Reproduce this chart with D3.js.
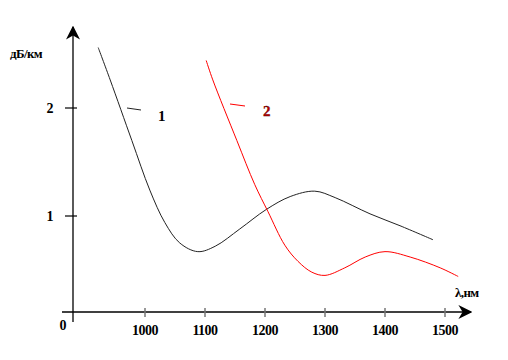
<!DOCTYPE html>
<html>
<head>
<meta charset="utf-8">
<script src="https://cdn.jsdelivr.net/npm/d3@7"></script>
<style>
  body { margin: 0; background: #fff; }
  text { font-family: "Liberation Serif", "Times New Roman", serif; font-weight: bold; }
</style>
</head>
<body>
<svg id="chart" width="508" height="360"></svg>
<script>
// wavelength ticks (nm) and attenuation ticks (dB/km)
var xTicks = [1000, 1100, 1200, 1300, 1400, 1500];
var yTicks = [1, 2];

// curve 1 (black)
var lambda1 = [922, 942, 978, 1008, 1033, 1058, 1088, 1117, 1158, 1202, 1242, 1283, 1317, 1375, 1425, 1480];
var atten1  = [2.56, 2.26, 1.70, 1.24, 0.94, 0.75, 0.67, 0.72, 0.88, 1.06, 1.18, 1.23, 1.17, 1.02, 0.91, 0.78];

// curve 2 (red)
var lambda2 = [1102, 1113, 1153, 1183, 1205, 1233, 1255, 1278, 1300, 1333, 1367, 1400, 1442, 1492, 1522];
var atten2  = [2.44, 2.26, 1.70, 1.29, 1.04, 0.73, 0.58, 0.48, 0.45, 0.52, 0.62, 0.67, 0.62, 0.52, 0.44];

var svg = d3.select("#chart");

var x = d3.scaleLinear().domain([1000, 1500]).range([145, 445]);
var y = d3.scaleLinear().domain([0, 2]).range([324, 108]);

var axisY = 312, axisX = 73;

// arrow marker
svg.append("defs").append("marker")
    .attr("id", "arrow")
    .attr("viewBox", "0 0 10 10")
    .attr("refX", 9).attr("refY", 5)
    .attr("markerWidth", 14).attr("markerHeight", 14)
    .attr("markerUnits", "userSpaceOnUse")
    .attr("orient", "auto")
  .append("path")
    .attr("d", "M0,0 L10,5 L0,10 L3,5 Z")
    .attr("fill", "#000");

// y axis
svg.append("line")
    .attr("x1", axisX).attr("x2", axisX)
    .attr("y1", 322).attr("y2", 27)
    .attr("stroke", "#000").attr("stroke-width", 1.3)
    .attr("marker-end", "url(#arrow)");

// x axis
svg.append("line")
    .attr("x1", 62).attr("x2", 471)
    .attr("y1", axisY).attr("y2", axisY)
    .attr("stroke", "#000").attr("stroke-width", 1.3)
    .attr("marker-end", "url(#arrow)");

// x ticks
svg.selectAll(".xt")
  .data(xTicks)
  .enter().append("line")
    .attr("x1", d => x(d)).attr("x2", d => x(d))
    .attr("y1", axisY - 4).attr("y2", axisY + 5)
    .attr("stroke", "#777").attr("stroke-width", 1.5);

svg.selectAll(".xl")
  .data(xTicks)
  .enter().append("text")
    .attr("x", d => x(d)).attr("y", 335)
    .attr("text-anchor", "middle")
    .style("font-size", "14px")
    .style("letter-spacing", "-0.5px")
    .text(d => d);

// y ticks
svg.selectAll(".yt")
  .data(yTicks)
  .enter().append("line")
    .attr("x1", axisX - 8).attr("x2", axisX + 4)
    .attr("y1", d => y(d)).attr("y2", d => y(d))
    .attr("stroke", "#000").attr("stroke-width", 1.2);

svg.selectAll(".yl")
  .data(yTicks)
  .enter().append("text")
    .attr("x", 50).attr("y", d => y(d) + 5)
    .attr("text-anchor", "middle")
    .style("font-size", "14px")
    .text(d => d);

svg.append("text").attr("x", 63).attr("y", 330)
    .attr("text-anchor", "middle")
    .style("font-size", "14px").text("0");

// axis titles
svg.append("text").attr("x", 10).attr("y", 58)
    .style("font-size", "13px").style("letter-spacing", "-0.6px")
    .text("дБ/км");
svg.append("text").attr("x", 455).attr("y", 297)
    .style("font-size", "13px").style("letter-spacing", "-0.6px")
    .text("λ,нм");

var line = d3.line()
    .x(d => x(d[0]))
    .y(d => y(d[1]))
    .curve(d3.curveCatmullRom.alpha(0.5));

svg.append("path")
    .datum(d3.zip(lambda1, atten1))
    .attr("d", line)
    .attr("fill", "none")
    .attr("stroke", "#222").attr("stroke-width", 1);

svg.append("path")
    .datum(d3.zip(lambda2, atten2))
    .attr("d", line)
    .attr("fill", "none")
    .attr("stroke", "#f00").attr("stroke-width", 1);

// curve labels with leader lines
svg.append("line").attr("x1", 127).attr("y1", 108).attr("x2", 141).attr("y2", 110)
    .attr("stroke", "#222").attr("stroke-width", 1);
svg.append("text").attr("x", 158).attr("y", 121)
    .style("font-size", "15px").text("1");

svg.append("line").attr("x1", 230).attr("y1", 104).attr("x2", 245).attr("y2", 106)
    .attr("stroke", "#f00").attr("stroke-width", 1);
svg.append("text").attr("x", 263).attr("y", 116)
    .style("font-size", "15px").attr("fill", "#c00000")
    .style("stroke", "#400").style("stroke-width", 0.3)
    .text("2");
</script>
</body>
</html>
